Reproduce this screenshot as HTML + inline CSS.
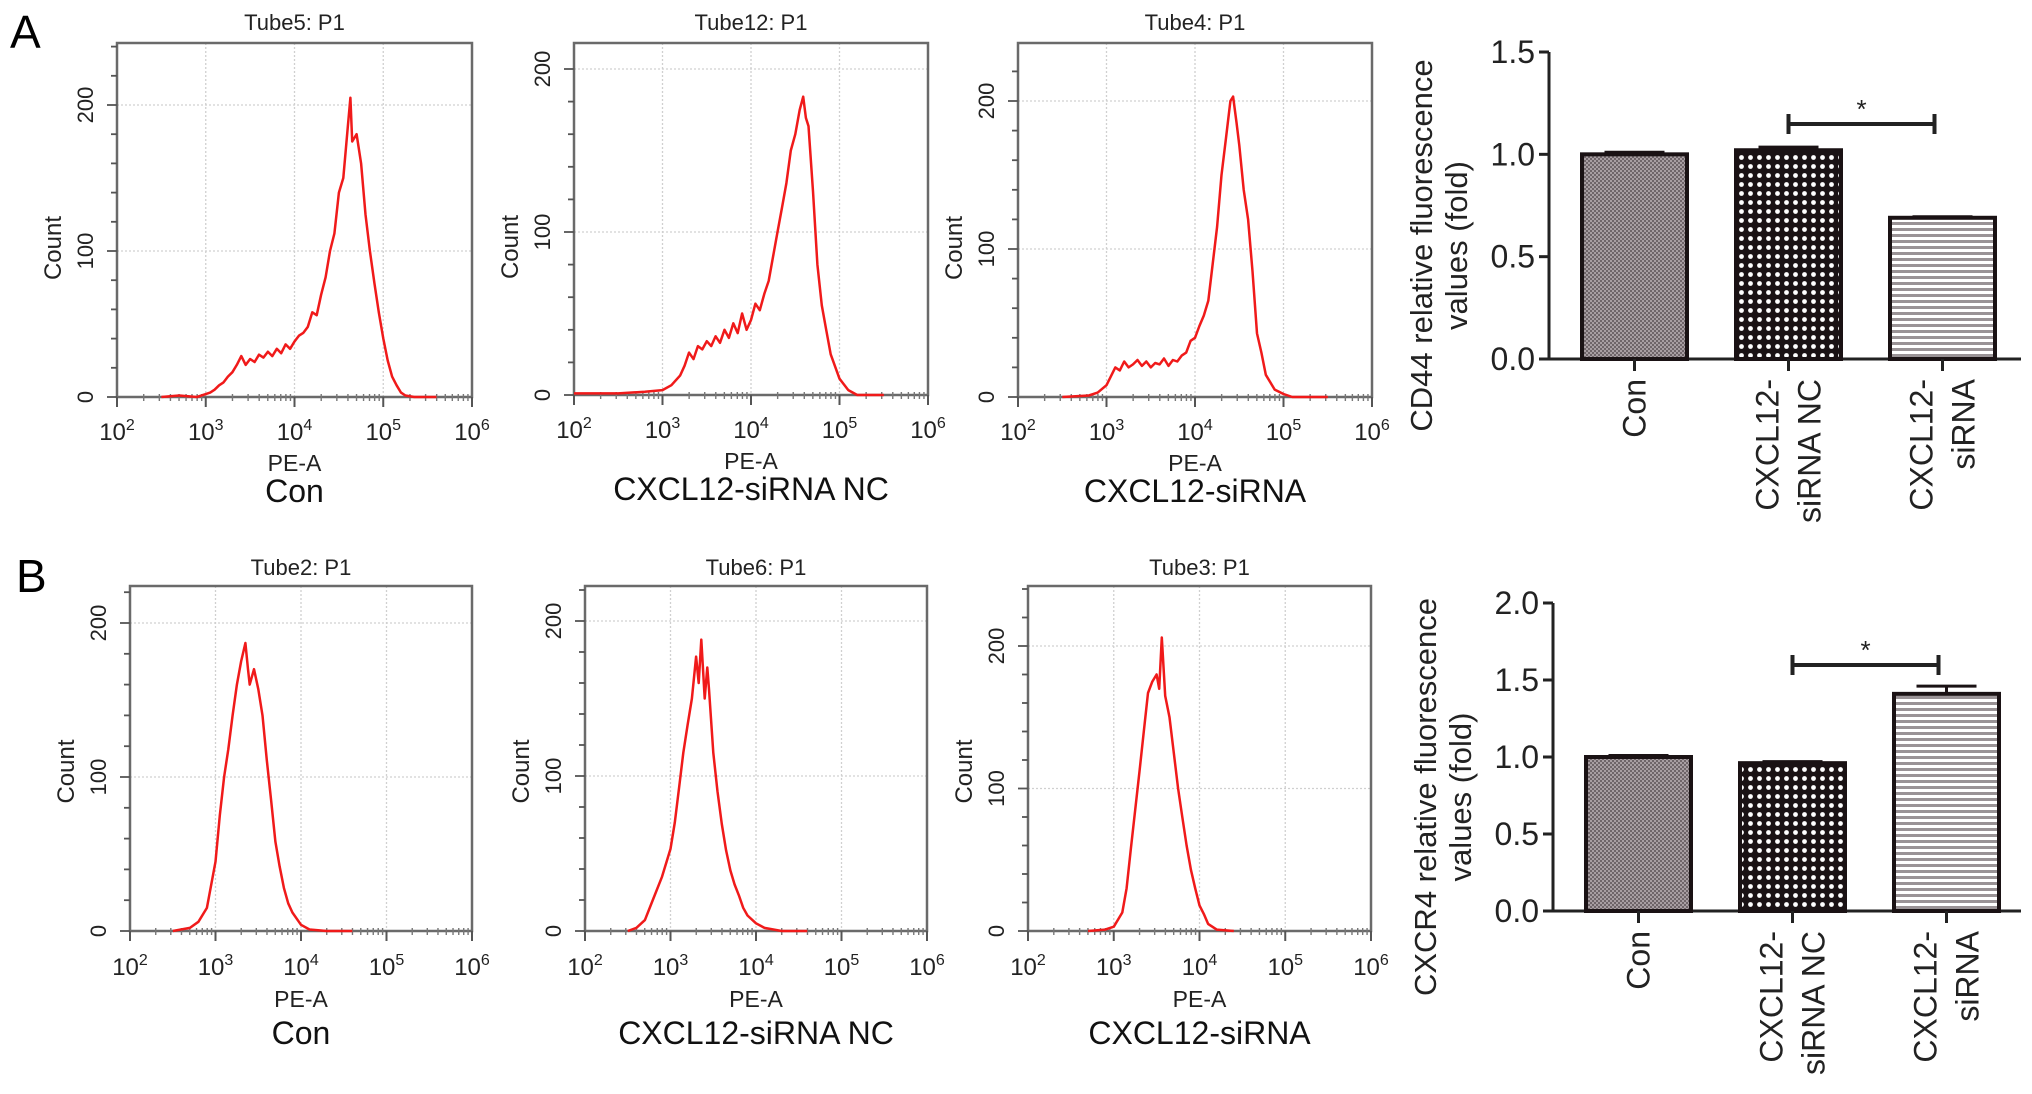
<!DOCTYPE html>
<html><head><meta charset="utf-8"><style>
html,body{margin:0;padding:0;background:#fff}
svg{display:block;font-family:"Liberation Sans",Arial,sans-serif}
</style></head><body>
<svg id="fig" width="2032" height="1094" viewBox="0 0 2032 1094" xmlns="http://www.w3.org/2000/svg">
<defs>
<pattern id="patCon" width="4" height="4" patternUnits="userSpaceOnUse">
<rect width="4" height="4" fill="#a89ea2"/><rect width="2" height="2" fill="#6f6569"/><rect x="2" y="2" width="2" height="2" fill="#6f6569"/>
</pattern>
<pattern id="patNC" width="9" height="9" patternUnits="userSpaceOnUse">
<rect width="9" height="9" fill="#1a1214"/><circle cx="4.5" cy="4.5" r="2.4" fill="#fff"/>
</pattern>
<pattern id="patSi" width="6" height="6" patternUnits="userSpaceOnUse">
<rect width="6" height="6" fill="#fff"/><rect width="6" height="3" fill="#9a9396"/>
</pattern>
</defs>
<text x="10" y="48" font-size="46">A</text>
<text x="16" y="592" font-size="46">B</text>
<g id="hists"></g>
<g id="bars"></g>
</svg>
<script>
// ---------- Histogram data (log10 PE-A, count) ----------
const a1X = [2.5,2.7,2.9,3.0,3.05,3.1,3.15,3.2,3.25,3.3,3.35,3.4,3.45,3.5,3.55,3.6,3.65,3.7,3.75,3.8,3.85,3.9,3.95,4.0,4.05,4.1,4.15,4.2,4.25,4.3,4.35,4.4,4.45,4.5,4.55,4.6,4.63,4.65,4.7,4.75,4.8,4.85,4.9,4.95,5.0,5.05,5.1,5.15,5.2,5.25,5.35,5.6];
const a1Y = [0,1,0,2,3,5,8,10,14,17,22,28,22,26,24,29,27,31,28,33,30,36,33,38,42,44,48,58,56,70,82,100,112,140,150,185,205,175,180,160,125,100,78,58,40,25,14,8,3,1,0,0];
const a2X = [2.0,2.5,2.8,3.0,3.1,3.2,3.25,3.3,3.35,3.4,3.45,3.5,3.55,3.6,3.65,3.7,3.75,3.8,3.85,3.9,3.95,4.0,4.05,4.1,4.15,4.2,4.25,4.3,4.35,4.4,4.45,4.5,4.55,4.59,4.62,4.65,4.7,4.75,4.8,4.85,4.9,5.0,5.1,5.2,5.5];
const a2Y = [1,1,2,3,6,12,18,26,22,30,28,33,30,36,32,40,35,44,38,50,40,46,56,52,62,70,85,100,115,130,150,160,175,183,170,165,125,80,55,40,25,10,3,0,0];
const a3X = [2.5,2.8,2.9,3.0,3.05,3.1,3.15,3.2,3.25,3.3,3.35,3.4,3.45,3.5,3.55,3.6,3.65,3.7,3.75,3.8,3.85,3.9,3.95,4.0,4.05,4.1,4.15,4.2,4.25,4.3,4.35,4.4,4.43,4.47,4.5,4.55,4.6,4.65,4.7,4.75,4.8,4.9,5.0,5.1,5.5];
const a3Y = [0,1,3,8,14,20,18,24,20,22,25,21,24,20,23,22,26,21,25,24,28,30,38,40,48,55,65,90,115,150,175,200,203,185,170,140,120,85,43,30,15,5,2,0,0];
const b1X = [2.5,2.7,2.8,2.9,3.0,3.05,3.1,3.15,3.2,3.25,3.3,3.35,3.38,3.4,3.45,3.5,3.55,3.6,3.65,3.7,3.75,3.8,3.85,3.9,4.0,4.1,4.3,4.6];
const b1Y = [0,2,6,15,45,75,100,118,140,160,175,187,170,160,170,157,140,111,85,58,42,28,18,12,4,1,0,0];
const b2X = [2.5,2.6,2.7,2.8,2.9,3.0,3.05,3.1,3.15,3.2,3.25,3.3,3.33,3.36,3.4,3.43,3.45,3.5,3.55,3.6,3.65,3.7,3.75,3.8,3.85,3.9,4.0,4.1,4.3,4.6];
const b2Y = [0,2,7,21,35,53,70,92,115,133,150,177,160,188,150,170,156,115,90,69,52,39,30,23,15,10,5,2,0,0];
const b3X = [2.7,2.9,3.0,3.1,3.15,3.2,3.25,3.3,3.35,3.4,3.45,3.5,3.53,3.56,3.6,3.65,3.7,3.75,3.8,3.85,3.9,3.95,4.0,4.05,4.1,4.2,4.4];
const b3Y = [0,1,3,13,30,58,85,112,140,167,175,180,170,206,165,150,125,100,80,60,43,30,18,12,5,1,0];

// ---------- Bar chart data ----------
const barCats = ["Con", "CXCL12-|siRNA NC", "CXCL12-|siRNA"];
const cd44Vals = [1.00, 1.02, 0.69];
const cd44Errs = [0.01, 0.015, 0.005];
const cd44Ticks = [0.0, 0.5, 1.0, 1.5];
const cxcr4Vals = [1.00, 0.96, 1.41];
const cxcr4Errs = [0.01, 0.01, 0.05];
const cxcr4Ticks = [0.0, 0.5, 1.0, 1.5, 2.0];
const xTickExps = [2, 3, 4, 5, 6];
const yTickCounts = [0, 100, 200];

const NS = "http://www.w3.org/2000/svg";
function mk(tag, attrs, parent) {
  const e = document.createElementNS(NS, tag);
  for (const k in attrs) e.setAttribute(k, attrs[k]);
  parent.appendChild(e);
  return e;
}
const hg = document.getElementById('hists');
const panels = [
  {x0:117,x1:472,top:43,y0:397,p100:146,title:"Tube5: P1",cond:"Con",xs:a1X,ys:a1Y,tOff:13,row:0},
  {x0:574,x1:928,top:43,y0:395,p100:163,title:"Tube12: P1",cond:"CXCL12-siRNA NC",xs:a2X,ys:a2Y,tOff:13,row:0},
  {x0:1018,x1:1372,top:43,y0:397,p100:148,title:"Tube4: P1",cond:"CXCL12-siRNA",xs:a3X,ys:a3Y,tOff:13,row:0},
  {x0:130,x1:472,top:586,y0:931,p100:154,title:"Tube2: P1",cond:"Con",xs:b1X,ys:b1Y,tOff:11,row:1},
  {x0:585,x1:927,top:586,y0:931,p100:155,title:"Tube6: P1",cond:"CXCL12-siRNA NC",xs:b2X,ys:b2Y,tOff:11,row:1},
  {x0:1028,x1:1371,top:586,y0:931,p100:142.5,title:"Tube3: P1",cond:"CXCL12-siRNA",xs:b3X,ys:b3Y,tOff:11,row:1}
];
panels.forEach((p, i) => {
  const g = mk('g', {}, hg);
  
  
  const sx = v => p.x0 + (v - 2) * (p.x1 - p.x0) / 4;
  const sy = c => p.y0 - c * p.p100 / 100;
  const cx = (p.x0 + p.x1) / 2;
  xTickExps.slice(1, 4).forEach(e => {
    const l = mk('line', {x1:sx(e),x2:sx(e),y1:p.top,y2:p.y0,stroke:'#d0d0d0','stroke-width':1.3,'stroke-dasharray':'2,2'}, g);
    
    
  });
  yTickCounts.slice(1).forEach(c => {
    const y = sy(c); if (y < p.top) return;
    const l = mk('line', {x1:p.x0,x2:p.x1,y1:y,y2:y,stroke:'#d0d0d0','stroke-width':1.3,'stroke-dasharray':'2,2'}, g);
    
    
  });
  const fr = mk('rect', {x:p.x0,y:p.top,width:p.x1-p.x0,height:p.y0-p.top,fill:'none',stroke:'#6a6a6a','stroke-width':2.5}, g);
  
  
  for (let d = 2; d < 6; d++) {
    for (let m = 2; m <= 9; m++) {
      const x = sx(d + Math.log10(m));
      mk('line', {x1:x,x2:x,y1:p.y0-3,y2:p.y0+4,stroke:'#777','stroke-width':1.4}, g);
    }
  }
  xTickExps.forEach(e => {
    const x = sx(e);
    mk('line', {x1:x,x2:x,y1:p.y0,y2:p.y0+10,stroke:'#555','stroke-width':2}, g);
    const t = mk('text', {x:x,y:p.y0+(p.row?44:43),'font-size':24,'text-anchor':'middle',fill:'#222'}, g);
    
    
    t.appendChild(document.createTextNode('10'));
    const s = mk('tspan', {dy:-10,'font-size':16}, t);
    s.textContent = String(e);
  });
  for (let c = 0; c <= 240; c += 20) {
    const y = sy(c); if (y < p.top - 1) break;
    const major = c % 100 === 0;
    mk('line', {x1:p.x0-(major?10:6),x2:p.x0,y1:y,y2:y,stroke:'#555','stroke-width':1.8}, g);
  }
  yTickCounts.forEach(c => {
    const y = sy(c);
    const tx = p.x0 - 24;
    const t = mk('text', {x:tx,y:y,'font-size':22,'text-anchor':'middle',fill:'#222',transform:`rotate(-90 ${tx} ${y})`}, g);
    
    
    t.textContent = String(c);
  });
  let d = '';
  p.xs.forEach((v, k) => { d += (k ? 'L' : 'M') + sx(v).toFixed(1) + ',' + sy(p.ys[k]).toFixed(1); });
  const path = mk('path', {d:d,fill:'none',stroke:'#f01a1a','stroke-width':2.5,'stroke-linejoin':'round'}, g);
  
  
  const tt = mk('text', {x:cx,y:p.top-p.tOff,'font-size':22,'text-anchor':'middle',fill:'#222'}, g);
  
  
  tt.textContent = p.title;
  const cy = (p.top + p.y0) / 2 + (p.row ? 13 : 28);
  const ctx = p.x0 - 56;
  const ct = mk('text', {x:ctx,y:cy,'font-size':24,'text-anchor':'middle',fill:'#222',transform:`rotate(-90 ${ctx} ${cy})`}, g);
  
  
  ct.textContent = 'Count';
  const pe = mk('text', {x:cx,y:p.y0+(p.row?76:74),'font-size':23,'text-anchor':'middle',fill:'#222'}, g);
  
  
  pe.textContent = 'PE-A';
  const cn = mk('text', {x:cx,y:p.y0+(p.row?113:105),'font-size':32,'text-anchor':'middle',fill:'#111'}, g);
  
  
  cn.textContent = p.cond;
});

const bg = document.getElementById('bars');
const charts = [
  {ax:1549,axEnd:2021,yTop:52,y0:359,max:1.5,vals:cd44Vals,errs:cd44Errs,ticks:cd44Ticks,title:["CD44 relative fluorescence","values (fold)"],sigY:124,sigL:1,sigR:2,name:'cd44-bar-chart'},
  {ax:1553,axEnd:2021,yTop:603,y0:911,max:2.0,vals:cxcr4Vals,errs:cxcr4Errs,ticks:cxcr4Ticks,title:["CXCR4 relative fluorescence","values (fold)"],sigY:665,sigL:1,sigR:2,name:'cxcr4-bar-chart'}
];
const pats = ['url(#patCon)','url(#patNC)','url(#patSi)'];
charts.forEach(c => {
  const g = mk('g', {}, bg);
  
  
  const sy = v => c.y0 - v / c.max * (c.y0 - c.yTop);
  const bw = 105, step = 154, first = c.ax + 33;
  const bx = i => first + i * step;
  const bcx = i => bx(i) + bw / 2;
  mk('line', {x1:c.ax,x2:c.ax,y1:c.yTop,y2:c.y0,stroke:'#222','stroke-width':3}, g);
  mk('line', {x1:c.ax-1,x2:c.axEnd,y1:c.y0,y2:c.y0,stroke:'#222','stroke-width':3}, g);
  c.ticks.forEach(t => {
    const y = sy(t);
    mk('line', {x1:c.ax-10,x2:c.ax,y1:y,y2:y,stroke:'#222','stroke-width':3}, g);
    const tl = mk('text', {x:c.ax-14,y:y+11,'font-size':32,'text-anchor':'end',fill:'#222'}, g);
    
    
    tl.textContent = t.toFixed(1);
  });
  c.vals.forEach((v, i) => {
    const r = mk('rect', {x:bx(i),y:sy(v),width:bw,height:c.y0-sy(v),fill:pats[i],stroke:'#1a1214','stroke-width':4}, g);
    
    
    const ye = sy(v + c.errs[i]);
    const e = mk('path', {d:`M${bcx(i)},${sy(v)}V${ye}M${bcx(i)-30},${ye}H${bcx(i)+30}`,stroke:'#1a1214','stroke-width':3,fill:'none'}, g);
    
    
    mk('line', {x1:bcx(i),x2:bcx(i),y1:c.y0,y2:c.y0+12,stroke:'#222','stroke-width':3}, g);
    const parts = barCats[i].split('|');
    const n = parts.length;
    parts.forEach((s, k) => {
      const tx = bcx(i) + (k - (n - 1) / 2) * 42 + 11;
      const ty = c.y0 + 20;
      const t = mk('text', {x:tx,y:ty,'font-size':32,'text-anchor':'end',fill:'#222',transform:`rotate(-90 ${tx} ${ty})`}, g);
      
      
      t.textContent = s;
    });
  });
  const l = bcx(c.sigL), r = bcx(c.sigR) - 8;
  const sb = mk('path', {d:`M${l},${c.sigY-10}V${c.sigY+10}M${l},${c.sigY}H${r}M${r},${c.sigY-10}V${c.sigY+10}`,stroke:'#222','stroke-width':4,fill:'none'}, g);
  
  
  const st = mk('text', {x:(l+r)/2,y:c.sigY-6,'font-size':26,'text-anchor':'middle',fill:'#222'}, g);
  
  
  st.textContent = '*';
  const cy = (c.yTop + c.y0) / 2 + 40;
  c.title.forEach((s, k) => {
    const tx = c.ax - 117 + k * 35;
    const t = mk('text', {x:tx,y:cy,'font-size':31,'text-anchor':'middle',fill:'#222',transform:`rotate(-90 ${tx} ${cy})`}, g);
    
    
    t.textContent = s;
  });
});
</script>
</body></html>
